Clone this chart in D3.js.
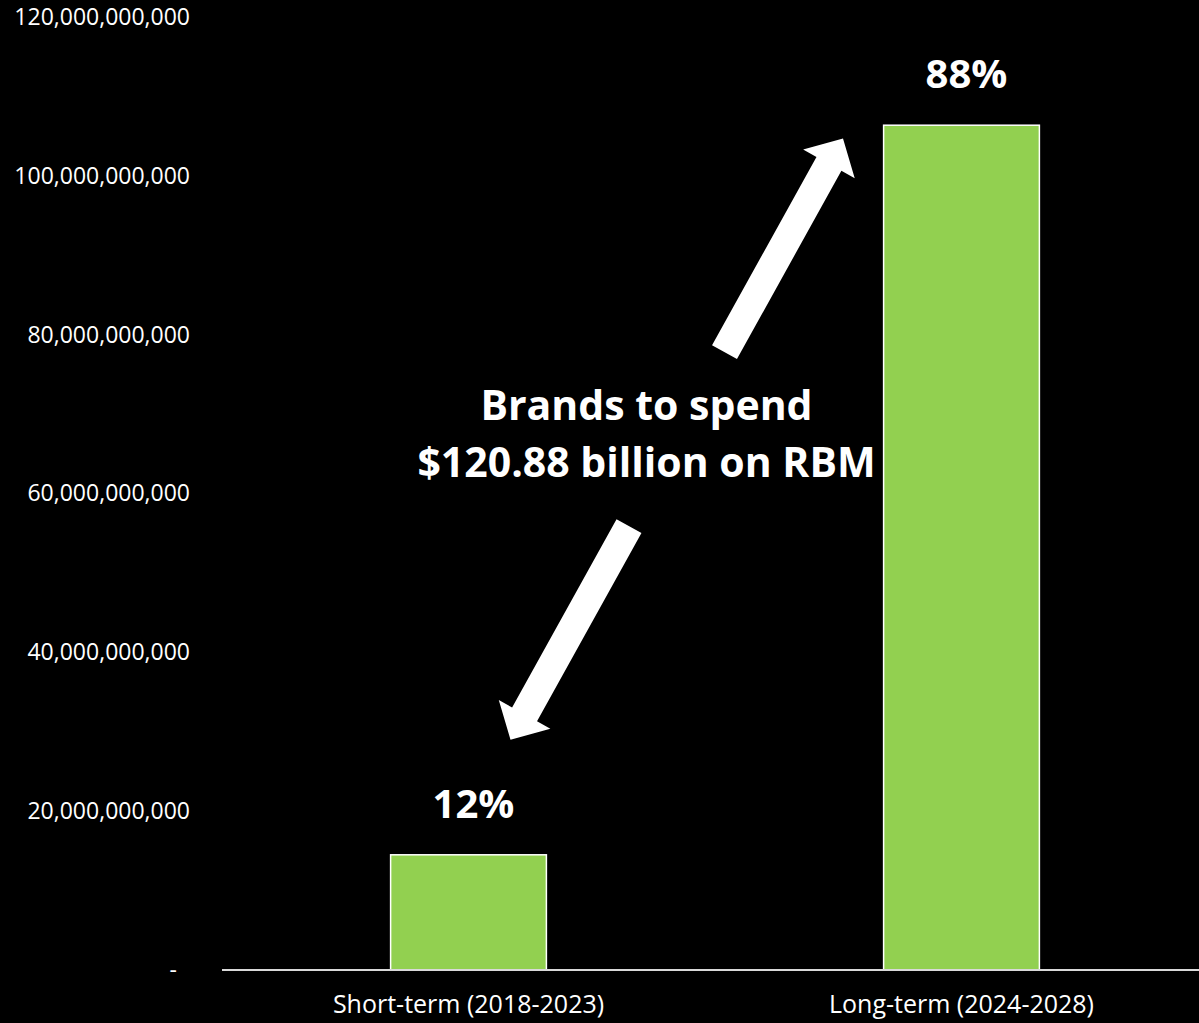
<!DOCTYPE html>
<html>
<head>
<meta charset="utf-8">
<script src="https://cdn.jsdelivr.net/npm/d3@7/dist/d3.min.js"></script>
<style>
  html, body { margin: 0; padding: 0; background: #000; }
  svg { display: block; }
  text { font-family: "Open Sans", "Noto Sans", sans-serif; fill: #fff; }
</style>
</head>
<body>
<svg id="chart" width="1199" height="1023"></svg>
<script>
// RBM spend split between the two periods (USD)
const categories = ["Short-term (2018-2023)", "Long-term (2024-2028)"];
const totalSpend = 120.88e9;
const shares = [0.12, 0.88];
const shareLabels = ["12%", "88%"];
const values = shares.map(s => s * totalSpend);
const yTicks = [0, 20e9, 40e9, 60e9, 80e9, 100e9, 120e9];
const headline = ["Brands to spend", "$120.88 billion on RBM"];

const W = 1199, H = 1023;
const margin = { left: 222, right: -9, top: 17, bottom: 53 };

const svg = d3.select("#chart");
svg.append("rect").attr("width", W).attr("height", H).attr("fill", "#000");

const x = d3.scaleBand()
  .domain(categories)
  .range([margin.left, W - margin.right])
  .paddingInner(0.684)
  .paddingOuter(0.342);

const y = d3.scaleLinear()
  .domain([0, 120e9])
  .range([H - margin.bottom, margin.top]);

// Y axis labels (no axis line, no tick marks)
const fmt = d => d === 0 ? "-" : d3.format(",")(d);
const yAxis = svg.append("g")
  .attr("transform", `translate(${margin.left},0)`)
  .call(d3.axisLeft(y).tickValues(yTicks).tickFormat(fmt).tickSize(0).tickPadding(32));
yAxis.select(".domain").remove();
yAxis.selectAll("text")
  .attr("fill", "#fff")
  .style("font-family", '"Open Sans", sans-serif')
  .style("font-size", "23px");
yAxis.selectAll(".tick").filter(d => d === 0).select("text").attr("dx", -13);

// Bars
svg.append("g").selectAll("rect")
  .data(categories)
  .join("rect")
  .attr("x", d => x(d))
  .attr("y", (d, i) => y(values[i]))
  .attr("width", x.bandwidth())
  .attr("height", (d, i) => y(0) - y(values[i]))
  .attr("fill", "#92D050")
  .attr("stroke", "#ffffff")
  .attr("stroke-width", 1.5);

// Baseline
svg.append("line")
  .attr("x1", margin.left).attr("x2", W)
  .attr("y1", y(0)).attr("y2", y(0))
  .attr("stroke", "#d9d9d9")
  .attr("stroke-width", 2);

// Category labels
svg.append("g").selectAll("text")
  .data(categories)
  .join("text")
  .attr("x", d => x(d) + x.bandwidth() / 2)
  .attr("y", y(0) + 43)
  .attr("text-anchor", "middle")
  .style("font-size", "25px")
  .text(d => d);

// Share labels above the bars
svg.append("g").selectAll("text")
  .data(categories)
  .join("text")
  .attr("x", d => x(d) + x.bandwidth() / 2 + 5)
  .attr("y", (d, i) => y(values[i]) - 37)
  .attr("text-anchor", "middle")
  .style("font-size", "40px")
  .style("font-weight", "700")
  .text((d, i) => shareLabels[i]);

// Headline annotation
const cx1 = x(categories[0]) + x.bandwidth() / 2;
const cx2 = x(categories[1]) + x.bandwidth() / 2;
svg.append("g").selectAll("text")
  .data(headline)
  .join("text")
  .attr("x", cx1 + 178)
  .attr("y", (d, i) => y(69.2e9) + i * 57)
  .attr("text-anchor", "middle")
  .style("font-size", "41px")
  .style("font-weight", "700")
  .text(d => d);

// Block arrow from (x0,y0) to tip (x1,y1)
function blockArrow(x0, y0, x1, y1, shaftW, headW, headL) {
  const dx = x1 - x0, dy = y1 - y0;
  const len = Math.hypot(dx, dy);
  const ux = dx / len, uy = dy / len;
  const px = -uy, py = ux;
  const bx = x1 - ux * headL, by = y1 - uy * headL;
  const pts = [
    [x0 + px * shaftW / 2, y0 + py * shaftW / 2],
    [bx + px * shaftW / 2, by + py * shaftW / 2],
    [bx + px * headW / 2, by + py * headW / 2],
    [x1, y1],
    [bx - px * headW / 2, by - py * headW / 2],
    [bx - px * shaftW / 2, by - py * shaftW / 2],
    [x0 - px * shaftW / 2, y0 - py * shaftW / 2]
  ];
  return d3.line()(pts) + "Z";
}

const arrows = [
  { from: [cx1 + 160.5, y(55.9e9)], to: [cx1 + 42, y(29.0e9)] },
  { from: [cx2 - 237, y(77.8e9)], to: [cx2 - 118.5, y(104.7e9)] }
];
svg.append("g").selectAll("path")
  .data(arrows)
  .join("path")
  .attr("d", a => blockArrow(a.from[0], a.from[1], a.to[0], a.to[1], 28.5, 59, 29))
  .attr("fill", "#fff");
</script>
</body>
</html>
